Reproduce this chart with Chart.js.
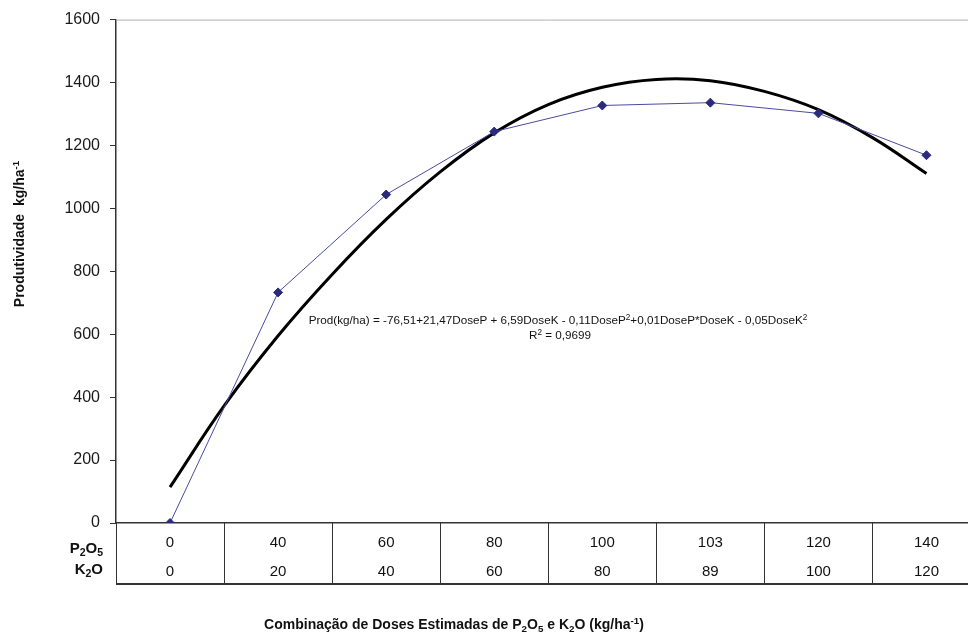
<!DOCTYPE html>
<html lang="pt">

<head>
  <meta charset="UTF-8">
  <title>Produtividade x Doses de P2O5 e K2O</title>
  <script src="https://cdn.jsdelivr.net/npm/chart.js"></script>
  <style>
    html, body { margin: 0; padding: 0; background: #fff; overflow: hidden; }
    #wrap { width: 986px; height: 635px; }
  </style>
</head>

<body>
  <div id="wrap"><canvas id="prodChart" width="986" height="635"></canvas></div>

  <script>
    // Doses (table under the chart)
    var doseP = ['0', '40', '60', '80', '100', '103', '120', '140'];
    var doseK = ['0', '20', '40', '60', '80', '89', '100', '120'];

    // Observed yield (kg/ha), one per dose combination
    var observed = [0, 733, 1044, 1244, 1327, 1336, 1302, 1169];

    // Fitted curve at half-step positions
    var fitPos = [0, 0.5, 1, 1.5, 2, 2.5, 3, 3.5, 4, 4.5, 5, 5.5, 6, 6.5, 7];
    var fitVal = [114, 372, 595, 790, 965, 1116, 1240, 1330, 1385, 1410, 1406, 1372, 1314, 1225, 1111];

    var yMin = 0, yMax = 1600, yStep = 200;

    var FONT = '"Liberation Sans", Arial, sans-serif';

    // draw text made of parts: [text, 0 normal | 1 sub | 2 sup]
    function drawRich(ctx, parts, x, y, size, bold, align) {
      var w = 0;
      parts.forEach(function (p) {
        var s = p[1] ? size * 0.7 : size;
        ctx.font = (bold ? 'bold ' : '') + s + 'px ' + FONT;
        w += ctx.measureText(p[0]).width;
      });
      var cx = align === 'right' ? x - w : (align === 'center' ? x - w / 2 : x);
      ctx.textAlign = 'left';
      ctx.textBaseline = 'middle';
      parts.forEach(function (p) {
        var s = p[1] ? size * 0.7 : size;
        ctx.font = (bold ? 'bold ' : '') + s + 'px ' + FONT;
        var dy = p[1] === 1 ? size * 0.3 : (p[1] === 2 ? -size * 0.3 : 0);
        ctx.fillText(p[0], cx, y + dy);
        cx += ctx.measureText(p[0]).width;
      });
    }

    var tablePlugin = {
      id: 'tablePlugin',
      afterDraw: function (chart) {
        var ctx = chart.ctx;
        var area = chart.chartArea;
        var xs = chart.scales.x;
        ctx.save();

        // top border of plot
        ctx.strokeStyle = '#b0b0b0';
        ctx.lineWidth = 1;
        ctx.beginPath();
        ctx.moveTo(area.left, area.top + 0.5);
        ctx.lineTo(area.right, area.top + 0.5);
        ctx.stroke();

        // table grid
        var tBottom = 584;
        ctx.strokeStyle = '#333';
        ctx.lineWidth = 1;
        for (var i = 0; i <= doseP.length; i++) {
          var bx = Math.round(xs.getPixelForValue(i - 0.5)) + 0.5;
          ctx.beginPath();
          ctx.moveTo(bx, area.bottom);
          ctx.lineTo(bx, tBottom);
          ctx.stroke();
        }
        ctx.lineWidth = 2;
        ctx.beginPath();
        ctx.moveTo(area.left, tBottom);
        ctx.lineTo(area.right, tBottom);
        ctx.stroke();

        // table values
        ctx.fillStyle = '#111';
        ctx.font = '15px ' + FONT;
        ctx.textAlign = 'center';
        ctx.textBaseline = 'middle';
        for (var j = 0; j < doseP.length; j++) {
          var cx = xs.getPixelForValue(j);
          ctx.fillText(doseP[j], cx, 543);
          ctx.fillText(doseK[j], cx, 572);
        }

        // row labels
        drawRich(ctx, [['P', 0], ['2', 1], ['O', 0], ['5', 1]], 103, 549, 15, true, 'right');
        drawRich(ctx, [['K', 0], ['2', 1], ['O', 0]], 103, 570, 15, true, 'right');

        // axis titles
        drawRich(ctx, [['Combinação de Doses Estimadas de P', 0], ['2', 1], ['O', 0], ['5', 1],
          [' e K', 0], ['2', 1], ['O (kg/ha', 0], ['-1', 2], [')', 0]], 454, 625, 14, true, 'center');

        ctx.save();
        ctx.translate(20, 234);
        ctx.rotate(-Math.PI / 2);
        drawRich(ctx, [['Produtividade  kg/ha', 0], ['-1', 2]], 0, 0, 14, true, 'center');
        ctx.restore();

        // regression equation
        drawRich(ctx, [['Prod(kg/ha) = -76,51+21,47DoseP + 6,59DoseK - 0,11DoseP', 0], ['2', 2],
          ['+0,01DoseP*DoseK - 0,05DoseK', 0], ['2', 2]], 558, 321, 11.7, false, 'center');
        drawRich(ctx, [['R', 0], ['2', 2], [' = 0,9699', 0]], 560, 336, 11.7, false, 'center');

        ctx.restore();
      }
    };

    var ctx = document.getElementById('prodChart').getContext('2d');
    var prodChart = new Chart(ctx, {
      type: 'line',
      data: {
        datasets: [{
          label: 'Observado',
          data: observed.map(function (v, i) { return { x: i, y: v }; }),
          borderColor: '#4b4b9e',
          borderWidth: 1,
          pointStyle: 'rectRot',
          pointRadius: 4.5,
          pointBackgroundColor: '#2b2b7d',
          pointBorderColor: '#2b2b7d',
          tension: 0,
          order: 0
        }, {
          label: 'Ajuste',
          data: fitPos.map(function (p, i) { return { x: p, y: fitVal[i] }; }),
          borderColor: '#000',
          borderWidth: 3,
          pointRadius: 0,
          tension: 0.4,
          order: 1
        }]
      },
      options: {
        responsive: false,
        animation: false,
        layout: { padding: { top: 19, right: 1, left: 0, bottom: 0 } },
        plugins: {
          legend: { display: false },
          tooltip: { enabled: false }
        },
        scales: {
          x: {
            type: 'linear',
            min: -0.5,
            max: 7.5,
            grid: { display: false },
            ticks: { display: false },
            border: { display: true, color: '#333', width: 1.5 },
            afterFit: function (scale) { scale.height = 112; }
          },
          y: {
            min: yMin,
            max: yMax,
            ticks: {
              stepSize: yStep,
              color: '#1a1a1a',
              font: { family: FONT, size: 16 },
              padding: 10,
              callback: function (v) { return String(v); }
            },
            grid: { drawOnChartArea: false, drawTicks: true, tickLength: 6, tickColor: '#333' },
            border: { display: true, color: '#333', width: 1.5 },
            afterFit: function (scale) { scale.width = 116; }
          }
        }
      },
      plugins: [tablePlugin]
    });
  </script>
</body>

</html>
